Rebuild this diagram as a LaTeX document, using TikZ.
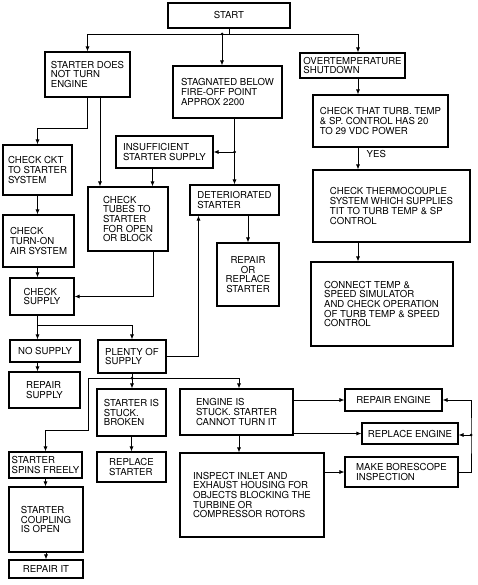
\documentclass[tikz,border=0pt]{standalone}
\usepackage{fontspec}
\setmainfont{TeX Gyre Heros}
\usetikzlibrary{arrows.meta}

\begin{document}
\begin{tikzpicture}[x=1pt, y=-1pt, every node/.style={font=\fontsize{9.6}{9.7}\selectfont}, >={Latex[length=5pt,width=4pt]},
	box/.style={draw, line width=1.1pt, align=left, inner sep=0pt},
	sz/.style 2 args={minimum width=#1pt, minimum height=#2pt},
	conn/.style={line width=0.75pt}]
	\useasboundingbox (0,0) rectangle (477,585);
	\node[box, sz={122}{25}, align=center] (start) at (229,15.5) {START};
	\node[box, sz={85}{45}] (notturn) at (87.5,74.5) {STARTER DOES\\NOT TURN\\ENGINE};
	\node[box, sz={109}{52}] (stag) at (227.5,92) {STAGNATED BELOW\\FIRE-OFF POINT\\APPROX 2200};
	\node[box, sz={105}{25}] (overtemp) at (352.5,65.5) {OVERTEMPERATURE\\SHUTDOWN};
	\node[box, sz={135}{52}] (power) at (380.5,121) {CHECK THAT TURB. TEMP\\\& SP. CONTROL HAS 20\\TO 29 VDC POWER};
	\node[box, sz={157}{72}] (thermo) at (391.5,206) {CHECK THERMOCOUPLE\\SYSTEM WHICH SUPPLIES\\TIT TO TURB TEMP \& SP\\CONTROL};
	\node[box, sz={142}{84}] (simul) at (382,304) {CONNECT TEMP \&\\SPEED SIMULATOR\\AND CHECK OPERATION\\OF TURB TEMP \& SPEED\\CONTROL};
	\node[box, sz={97}{32}] (insuf) at (164.5,152) {INSUFFICIENT\\STARTER SUPPLY};
	\node[box, sz={89}{30}] (deter) at (234.5,200) {DETERIORATED\\STARTER};
	\node[box, sz={62}{63}, align=center] (repstarter) at (248,274.5) {REPAIR\\OR\\REPLACE\\STARTER};
	\node[box, sz={69}{50}] (ckt) at (37.5,170) {CHECK CKT\\TO STARTER\\SYSTEM};
	\node[box, sz={80}{64}] (tubes) at (128,219) {CHECK\\TUBES TO\\STARTER\\FOR OPEN\\OR BLOCK};
	\node[box, sz={71}{52}] (air) at (38.5,241) {CHECK\\TURN-ON\\AIR SYSTEM};
	\node[box, sz={64}{37}] (supply) at (42,296.5) {CHECK\\SUPPLY};
	\node[box, sz={70}{22}] (nosup) at (45,351) {NO SUPPLY};
	\node[box, sz={68}{33}] (plenty) at (132,356.5) {PLENTY OF\\SUPPLY};
	\node[box, sz={71}{36}] (repsup) at (44.5,390) {REPAIR\\SUPPLY};
	\node[box, sz={69}{47}] (stuck) at (131.5,412.5) {STARTER IS\\STUCK.\\BROKEN};
	\node[box, sz={69}{30}] (replst) at (131.5,467) {REPLACE\\STARTER};
	\node[box, sz={73}{26}] (spins) at (45.5,465) {STARTER\\SPINS FREELY};
	\node[box, sz={74}{65}] (coupling) at (46,519.5) {STARTER\\COUPLING\\IS OPEN};
	\node[box, sz={74}{18}] (repit) at (46,569) {REPAIR IT};
	\node[box, sz={113}{46}] (engstuck) at (236.5,412) {ENGINE IS\\STUCK. STARTER\\CANNOT TURN IT};
	\node[box, sz={144}{84}] (inspect) at (252,495) {INSPECT INLET AND\\EXHAUST HOUSING FOR\\OBJECTS BLOCKING THE\\TURBINE OR\\COMPRESSOR ROTORS};
	\node[box, sz={97}{22}] (repeng) at (393.5,400) {REPAIR ENGINE};
	\node[box, sz={96}{21}] (repleng) at (410,433.5) {REPLACE ENGINE};
	\node[box, sz={113}{30}] (bore) at (401.5,472) {MAKE BORESCOPE\\INSPECTION};

	\coordinate (bus) at (229,34);
	\coordinate (stagin) at ([xshift=-5.5pt]stag.north);
	\coordinate (colR) at ([xshift=5.5pt]overtemp.south);
	\draw[conn] (start.south) -- (bus);
	\draw[conn,->] (bus) -| (notturn.north);
	\draw[conn,->] (bus) -| (colR |- overtemp.north);
	\draw[conn,->] (stagin |- bus) -- (stagin);
	\fill (stagin |- bus) circle (1.5pt);

	\draw[conn,->] (colR) -- (colR |- power.north);
	\draw[conn,->] (colR |- power.south) -- (colR |- thermo.north) node[pos=0.3, right=5pt] (yes) {YES};
	\draw[conn,->] (colR |- thermo.south) -- (colR |- simul.north);

	\coordinate (c1) at (60,128);
	\coordinate (tubesL) at ([xshift=-28pt]tubes.north);
	\draw[conn,->] (notturn.south) -- (notturn.south |- c1) -| (ckt.north);
	\draw[conn,->] (notturn.south -| tubesL) -- (tubesL);

	\coordinate (j2) at (deter.north |- insuf.east);
	\draw[conn,->] (stag.south -| deter.north) -- (deter.north);
	\draw[conn,->] (j2) -- (insuf.east);
	\fill (j2) circle (1.5pt);
	\coordinate (insD) at ([xshift=-12pt]insuf.south);
	\draw[conn,->] (insD) -- (insD |- tubes.north);
	\draw[conn,->] (deter.south -| repstarter.north) -- (repstarter.north);

	\draw[conn,->] (ckt.south) -- (ckt.south |- air.north);
	\draw[conn,->] (air.south -| ckt.south) -- (ckt.south |- supply.north);
	\coordinate (tubesR) at ([xshift=25pt]tubes.south);
	\draw[conn,->] (tubesR) |- (supply.east);

	\coordinate (j3) at (37.5,325);
	\draw[conn] (supply.south -| j3) -- (j3);
	\draw[conn,->] (j3) -- (j3 |- nosup.north);
	\draw[conn,->] (j3) -| (plenty.north);
	\draw[conn,->] (nosup.south -| j3) -- (j3 |- repsup.north);

	\coordinate (detL) at ([xshift=-36pt]deter.south);
	\draw[conn,->] (plenty.east) -| (detL);

	\coordinate (j4) at (132,378);
	\coordinate (c4) at (88,430);
	\draw[conn] (plenty.south) -- (j4);
	\draw[conn,->] (j4) -- (j4 |- stuck.north);
	\draw[conn,->] (j4) -| ([xshift=2.5pt]engstuck.north);
	\draw[conn,->] (j4) -| (c4) -| (spins.north);
	\fill (j4) circle (1.5pt);
	\draw[conn,->] (stuck.south -| replst.north) -- (replst.north);
	\draw[conn,->] (spins.south) -- (spins.south |- coupling.north);
	\draw[conn,->] (coupling.south) -- (repit.north);

	\coordinate (engD) at ([xshift=2.5pt]engstuck.south);
	\draw[conn,->] (engD) -- (engD |- inspect.north);
	\draw[conn,->] (engstuck.east |- repeng.west) -- (repeng.west);
	\draw[conn,->] (engstuck.east |- repleng.west) -- (repleng.west);
	\draw[conn,->] (inspect.east |- bore.west) -- (bore.west);

	\coordinate (j5) at (471,435);
	\draw[conn,->] (bore.east) -| (j5) |- (repeng.east);
	\draw[conn,->] (j5) -- (j5 -| repleng.east);
	\fill (j5) circle (1.5pt);
\end{tikzpicture}
\end{document}
